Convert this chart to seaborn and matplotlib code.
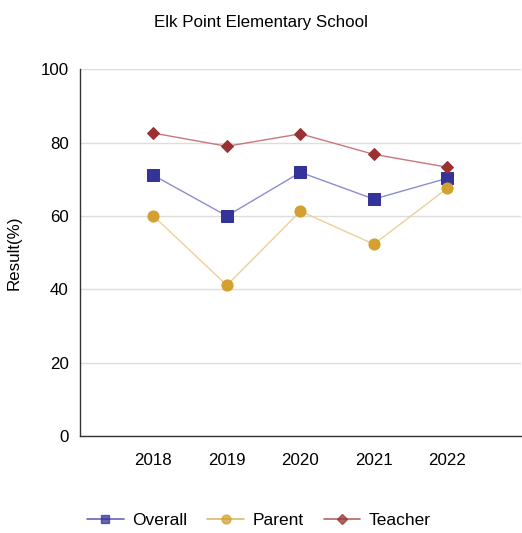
import matplotlib
matplotlib.use("Agg")
import matplotlib.pyplot as plt
from matplotlib.lines import Line2D
import seaborn as sns
import pandas as pd

years = [2018, 2019, 2020, 2021, 2022]
overall = [71.1, 60.0, 71.9, 64.6, 70.3]
parent = [60.0, 41.1, 61.3, 52.3, 67.6]
teacher = [82.6, 79.0, 82.4, 76.8, 73.3]

sns.set_style("white")
plt.rcParams['font.family'] = ['Liberation Sans', 'DejaVu Sans']
plt.rcParams['text.color'] = 'black'
plt.rcParams['xtick.color'] = 'black'
plt.rcParams['ytick.color'] = 'black'
plt.rcParams['axes.labelcolor'] = 'black'

fig = plt.figure(figsize=(5.22, 5.33), dpi=100)
ax = fig.add_axes([0.153, 0.182, 0.845, 0.688])

series = [
    ("Overall", overall, "s", "#333399", "#8c8cd0", 8),
    ("Parent", parent, "o", "#d4a030", "#ecd098", 8),
    ("Teacher", teacher, "D", "#993333", "#c87878", 6),
]
for name, vals, mk, dark, light, ms in series:
    df = pd.DataFrame({"year": years, "value": vals})
    sns.lineplot(data=df, x="year", y="value", ax=ax, color=light, lw=1,
                 marker=mk, markersize=ms, markerfacecolor=dark,
                 markeredgecolor=dark, alpha=1)

ax.set_xlim(2017, 2023)
ax.set_ylim(0, 100)
ax.set_xticks(range(2017, 2024))
ax.set_xticklabels([""] + [str(y) for y in years] + [""])
ax.set_yticks([0, 20, 40, 60, 80, 100])
ax.yaxis.grid(True, color="#dddddd", lw=1)
ax.set_axisbelow(True)
for s in ["top", "right"]:
    ax.spines[s].set_visible(False)
for s in ["left", "bottom"]:
    ax.spines[s].set_color("#333333")
    ax.spines[s].set_linewidth(1)
ax.tick_params(axis="both", direction="out", length=4, width=1, color="#333333",
               labelsize=12.2, pad=4)
ax.tick_params(axis="x", pad=8)
ax.set_xlabel("")
ax.set_ylabel("Result(%)", fontsize=12.2, labelpad=14)
fig.text(0.5, 0.957, "Elk Point Elementary School", ha="center", va="center", fontsize=12.2)

handles = [Line2D([], [], color=dark, alpha=0.75, lw=1.2, marker=mk,
                  markersize=ms * 0.8, markerfacecolor=dark, markeredgecolor=dark)
           for _, _, mk, dark, _, ms in series]
labels = [s[0] for s in series]
ax.legend(handles, labels, loc="center", bbox_to_anchor=(259 / 522, 1 - 520 / 533),
          bbox_transform=fig.transFigure, ncol=3, frameon=False, fontsize=12.5,
          handlelength=2.1, columnspacing=1.15, handletextpad=0.5)

fig.savefig("out.png", dpi=100)
